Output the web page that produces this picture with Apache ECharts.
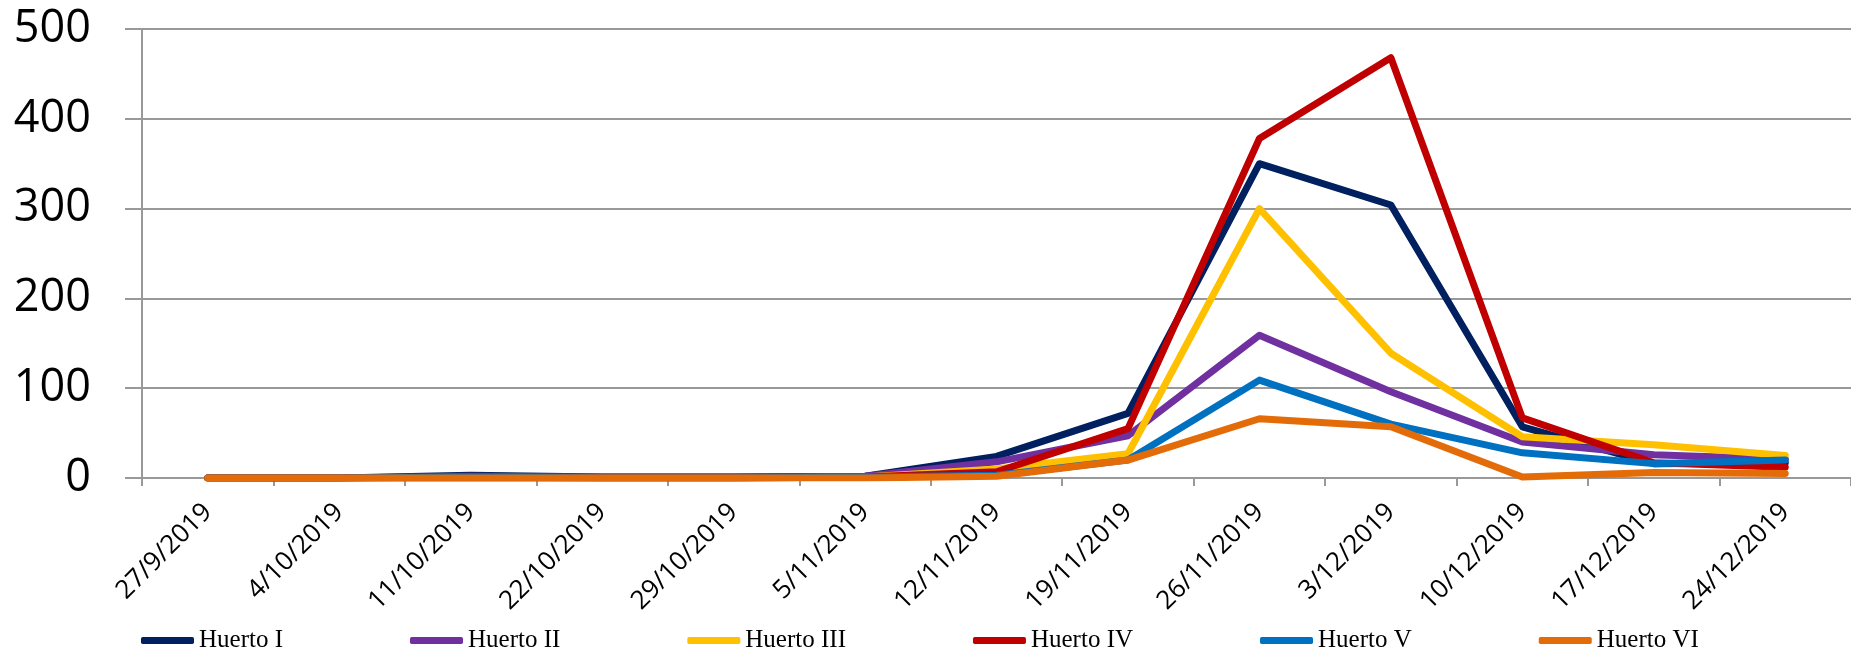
<!DOCTYPE html>
<html>
<head>
<meta charset="utf-8">
<script src="https://cdn.jsdelivr.net/npm/echarts@6/dist/echarts.min.js"></script>
<style>html,body{margin:0;padding:0;background:#fff;}#c{width:1851px;height:652px;}</style>
</head>
<body>
<div id="c"></div>
<script>
var categories = ['27/9/2019','4/10/2019','11/10/2019','22/10/2019','29/10/2019','5/11/2019','12/11/2019','19/11/2019','26/11/2019','3/12/2019','10/12/2019','17/12/2019','24/12/2019'];
var seriesNames = ['Huerto I','Huerto II','Huerto III','Huerto IV','Huerto V','Huerto VI'];
var huerto1 = [0, 0, 3, 1, 1, 2, 24, 72, 350, 304, 57, 16, 17];
var huerto2 = [0, 0, 2, 1, 1, 2, 18, 47, 159, 96, 40, 26, 21];
var huerto3 = [0, 0, 0, 0, 0, 1, 10, 27, 300, 139, 46, 37, 25];
var huerto4 = [0, 0, 0, 0, 0, 1, 7, 55, 378, 468, 67, 17, 12];
var huerto5 = [0, 0, 1, 0, 0, 1, 3, 20, 109, 60, 28, 16, 20];
var huerto6 = [0, 0, 0, 0, 0, 0, 2, 20, 66, 57, 1, 6, 5];
var yTicks = [0, 100, 200, 300, 400, 500];
var colors = ['#002060','#7030A0','#FFC000','#C00000','#0070C0','#E36C09'];
var allData = [huerto1, huerto2, huerto3, huerto4, huerto5, huerto6];

var chart = echarts.init(document.getElementById('c'));
var series = seriesNames.map(function(n, i){
  return {
    name: n, type: 'line', data: allData[i], symbol: 'none', smooth: false,
    lineStyle: {width: 7, color: colors[i], cap: 'round', join: 'round'},
    itemStyle: {color: colors[i]}
  };
});
chart.setOption({
  animation: false,
  color: colors,
  grid: {left: 142, right: -10, top: 29, bottom: 174, containLabel: false},
  legend: {
    data: seriesNames,
    left: 136, top: 623,
    icon: 'roundRect',
    itemWidth: 53, itemHeight: 7, itemGap: 127,
    textStyle: {fontFamily: 'Liberation Serif', fontSize: 25, color: '#000'}
  },
  xAxis: {
    type: 'category', data: categories, boundaryGap: true,
    axisLine: {lineStyle: {color: '#999', width: 2}},
    axisTick: {show: true, length: 8, lineStyle: {color: '#999', width: 2}, alignWithLabel: false},
    axisLabel: {rotate: 45, interval: 0, margin: 30, fontFamily: 'Open Sans', fontSize: 26, color: '#000'},
    splitLine: {show: false}
  },
  yAxis: {
    type: 'value', min: yTicks[0], max: yTicks[yTicks.length-1], interval: 100,
    axisLine: {show: true, lineStyle: {color: '#999', width: 2}},
    axisTick: {show: true, length: 17, lineStyle: {color: '#999', width: 2}},
    axisLabel: {margin: 51, fontFamily: 'Open Sans', fontSize: 45, color: '#000'},
    splitLine: {show: true, lineStyle: {color: '#999', width: 2}}
  },
  series: series
});
</script>
</body>
</html>
